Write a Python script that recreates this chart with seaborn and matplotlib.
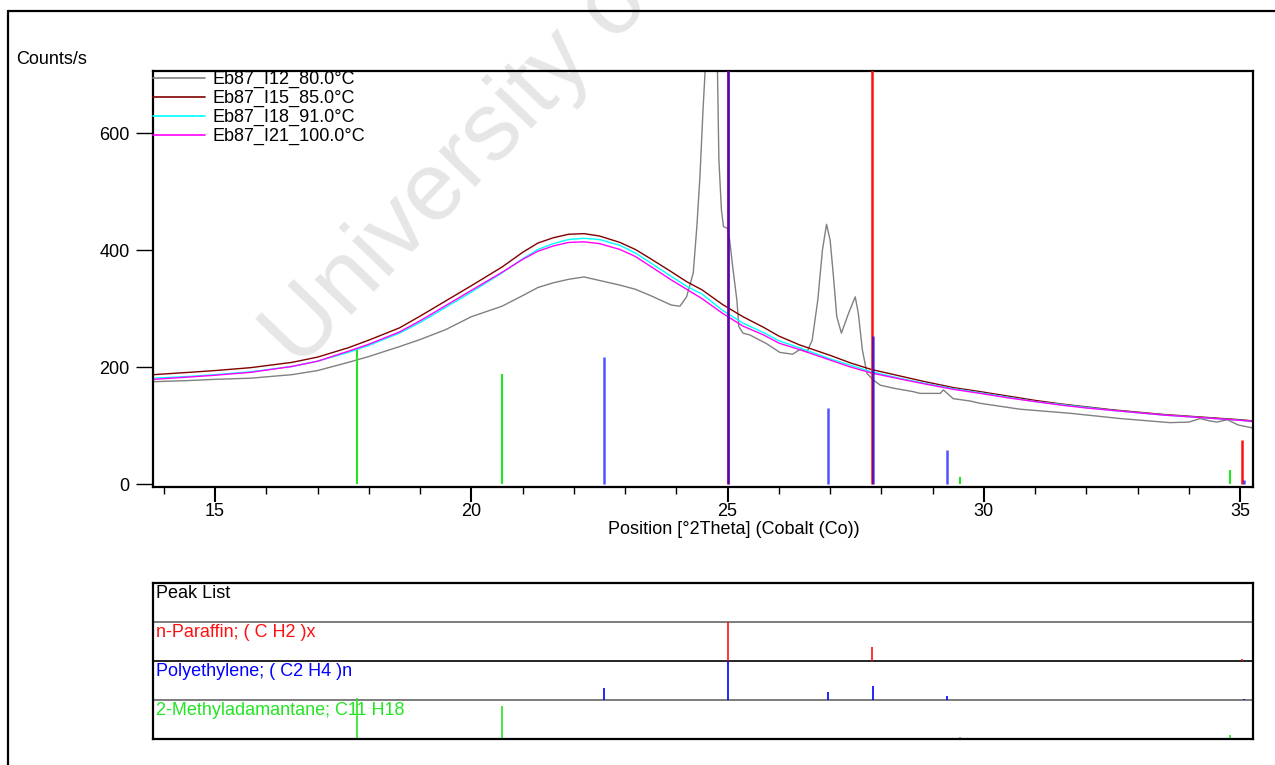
import numpy as np
import pandas as pd
import matplotlib
matplotlib.use("Agg")
import matplotlib.pyplot as plt
from matplotlib.lines import Line2D
from matplotlib.ticker import MultipleLocator
import matplotlib.transforms as mtransforms
import seaborn as sns

# ---------------- data ----------------
x_amorph = [13.8, 14.5, 15.0, 15.7, 16.5, 17.0, 17.6, 18.0, 18.6, 19.0,
            19.5, 20.0, 20.6, 21.0, 21.3, 21.6, 21.9, 22.2, 22.5, 22.9,
            23.2, 23.5, 23.9, 24.2, 24.5, 24.9, 25.3, 25.7, 26.0, 26.4,
            27.0, 27.4, 27.8, 28.4, 28.8, 29.4, 30.0, 30.5, 31.0, 31.5,
            32.0, 32.5, 33.0, 33.5, 34.0, 34.5, 35.0, 35.25]
y_85 = [187, 191, 194, 199, 208, 217, 233, 246, 267, 287,
        313, 339, 371, 396, 412, 421, 427, 428, 424, 413,
        401, 385, 363, 346, 332, 307, 286, 268, 253, 238,
        220, 207, 196, 184, 176, 165, 157, 150, 143, 137,
        132, 127, 123, 119, 116, 113, 110, 108]
y_91 = [181, 184, 187, 192, 201, 210, 225, 237, 258, 276,
        302, 328, 361, 385, 401, 411, 418, 420, 418, 408,
        395, 378, 355, 338, 325, 297, 275, 259, 245, 233,
        214, 203, 192, 180, 173, 163, 155, 148, 141, 136,
        131, 126, 122, 118, 115, 112, 109, 107]
y_100 = [179, 183, 186, 191, 201, 210, 227, 239, 260, 279,
         305, 331, 362, 384, 398, 407, 413, 414, 411, 401,
         389, 372, 349, 333, 317, 292, 270, 255, 241, 230,
         212, 200, 190, 179, 172, 162, 154, 147, 141, 135,
         130, 126, 122, 118, 115, 112, 109, 107]

x_80 = [13.8, 14.5, 15.0, 15.7, 16.5, 17.0, 17.6, 18.0, 18.6, 19.0,
        19.5, 20.0, 20.6, 21.0, 21.3, 21.6, 21.9, 22.2, 22.5, 22.9,
        23.2, 23.5, 23.9, 24.07, 24.2, 24.33, 24.4, 24.46, 24.52, 24.57,
        24.64, 24.72, 24.8, 24.83, 24.88, 24.92, 25.0, 25.04, 25.1, 25.18,
        25.22, 25.3, 25.43, 25.76, 26.02, 26.27, 26.41, 26.55, 26.65, 26.76,
        26.85, 26.93, 27.0, 27.06, 27.13, 27.22, 27.36, 27.49, 27.55, 27.63,
        27.72, 27.84, 27.98, 28.23, 28.62, 28.75, 29.15, 29.21, 29.4, 29.73,
        29.93, 30.7, 31.68, 32.66, 33.63, 34.0, 34.22, 34.4, 34.55, 34.75,
        34.96, 35.24]
y_80 = [175, 177, 179, 181, 187, 194, 208, 218, 235, 247,
        264, 286, 304, 322, 336, 344, 350, 354, 348, 340,
        333, 322, 306, 304, 320, 361, 440, 525, 639, 720,
        880, 880, 720, 554, 468, 440, 437, 417, 371, 315,
        269, 258, 255, 240, 225, 222, 230, 226, 246, 315,
        400, 444, 417, 360, 286, 258, 292, 320, 292, 229,
        189, 178, 169, 164, 158, 155, 155, 161, 146, 142,
        138, 128, 121, 112, 105, 106, 112, 108, 106, 110,
        101, 96]

series_labels = ["Eb87_I12_80.0°C", "Eb87_I15_85.0°C",
                 "Eb87_I18_91.0°C", "Eb87_I21_100.0°C"]
series_colors = ["#808080", "#800000", "#00FFFF", "#FF00FF"]

# reference patterns (stick positions, heights in the scan, relative heights in peak list)
paraffin_name = "n-Paraffin; ( C H2 )x"
paraffin_pos = [25.0, 27.82, 35.04]
paraffin_cts = [2000, 740, 75]
paraffin_rel = [1.0, 0.37, 0.04]

pe_name = "Polyethylene; ( C2 H4 )n"
pe_pos = [22.59, 25.0, 26.96, 27.84, 29.28, 35.08]
pe_cts = [217, 720, 130, 253, 58, 7]
pe_rel = [0.32, 1.0, 0.20, 0.37, 0.10, 0.03]

ma_name = "2-Methyladamantane; C11 H18"
ma_pos = [17.77, 20.6, 29.54, 34.8]
ma_cts = [230, 188, 12, 24]
ma_rel = [1.05, 0.84, 0.05, 0.11]

red, blue, green = "#FF1010", "#0000FF", "#22E622"

x_ticks = [15, 20, 25, 30, 35]
y_ticks = [0, 200, 400, 600]

# ---------------- build long table ----------------
frames = [pd.DataFrame({"pos": x_80, "counts": y_80, "series": series_labels[0]})]
for lab, ys in zip(series_labels[1:], [y_85, y_91, y_100]):
    frames.append(pd.DataFrame({"pos": x_amorph, "counts": ys, "series": lab}))
df = pd.concat(frames, ignore_index=True)

# ---------------- style ----------------
sns.set_theme(style="ticks")
plt.rcParams["font.family"] = ["Liberation Sans", "DejaVu Sans"]
FS = 13

W, H = 1275, 765
fig = plt.figure(figsize=(12.75, 7.65), dpi=100)
fig.patch.set_facecolor("white")

def fx(px):
    return px / W

def fy(py):
    return 1 - py / H

# watermark
fig.text(fx(466), fy(160), "University of", rotation=46, fontsize=70,
         color="#e6e6e6", ha="center", va="center", rotation_mode="anchor",
         zorder=-1)

# outer frame (left and top)
fig.add_artist(Line2D([fx(8), fx(8)], [0, fy(11)], transform=fig.transFigure,
                      color="black", lw=1.6))
fig.add_artist(Line2D([fx(8), 1], [fy(11), fy(11)], transform=fig.transFigure,
                      color="black", lw=1.6))

# ---------------- main scan axes ----------------
L, R, T, B = 153, 1253, 71, 487
ax = fig.add_axes([fx(L), fy(B), fx(R - L), (B - T) / H])
ax.set_facecolor("none")

sns.lineplot(data=df, x="pos", y="counts", hue="series",
             hue_order=series_labels,
             palette=dict(zip(series_labels, series_colors)),
             estimator=None, sort=False, lw=1.0, legend=False, ax=ax, zorder=2)

# reference sticks
ax.vlines(ma_pos, 0, ma_cts, colors=green, lw=1.5, zorder=3)
ax.vlines(paraffin_pos, 0, paraffin_cts, colors=red, lw=1.8, zorder=3)
ax.vlines(pe_pos, 0, pe_cts, colors=blue, lw=1.8, alpha=0.68, zorder=4)

ax.set_xlim(13.79, 35.25)
ax.set_ylim(-5, 706)
ax.set_xticks(x_ticks)
ax.set_xticklabels([str(t) for t in x_ticks])
ax.xaxis.set_minor_locator(MultipleLocator(1))
ax.set_yticks(y_ticks)
ax.set_yticklabels([str(t) for t in y_ticks])
ax.tick_params(axis="x", which="major", length=11, width=1.5, direction="out",
               pad=0.5, labelsize=FS, colors="black")
ax.tick_params(axis="x", which="minor", length=5, width=1.0, direction="out",
               colors="black")
ax.tick_params(axis="y", which="major", length=12, width=1.0, direction="out",
               pad=5, labelsize=FS, colors="black")
for s in ax.spines.values():
    s.set_visible(True)
    s.set_color("black")
    s.set_linewidth(1.6)

ax.set_xlabel("Position [°2Theta] (Cobalt (Co))", fontsize=FS, color="black")
ax.xaxis.set_label_coords((734 - L) / (R - L), (B - 529) / (B - T))
ax.xaxis.label.set_va("center")
ax.set_ylabel("Counts/s", fontsize=FS, rotation=0, color="black")
ax.yaxis.set_label_coords((16 - L) / (R - L), (B - 60) / (B - T))
ax.yaxis.label.set_ha("left")
ax.yaxis.label.set_va("center")

handles = [Line2D([], [], color=c, lw=1.2) for c in series_colors]
leg = ax.legend(handles, series_labels, loc="upper left",
                bbox_to_anchor=(0, 1.0), borderaxespad=0, borderpad=0,
                frameon=False, fontsize=FS, handlelength=2.9,
                handletextpad=0.4, labelspacing=0.1)
for t in leg.get_texts():
    t.set_color("black")

# ---------------- peak list axes ----------------
PT, PB = 583, 739
pax = fig.add_axes([fx(L), fy(PB), fx(R - L), (PB - PT) / H])
pax.set_facecolor("none")
pax.set_xlim(13.79, 35.25)
pax.set_ylim(0, 4)
pax.set_xticks([])
pax.set_yticks([])
for s in pax.spines.values():
    s.set_visible(True)
    s.set_color("black")
    s.set_linewidth(1.6)
pax.axhline(3, color="#666666", lw=1.2)
pax.axhline(2, color="black", lw=1.2)
pax.axhline(1, color="#666666", lw=1.2)

pax.vlines(paraffin_pos, 2, [2 + r for r in paraffin_rel], colors=red, lw=1.2)
pax.vlines(pe_pos, 1, [1 + r for r in pe_rel], colors=blue, lw=1.2)
pax.vlines(ma_pos, 0, ma_rel, colors=green, lw=1.2)

trans = mtransforms.blended_transform_factory(pax.transAxes, pax.transData)
for row, (txt, col) in enumerate([("Peak List", "black"),
                                  (paraffin_name, red),
                                  (pe_name, blue),
                                  (ma_name, green)]):
    pax.text(0.003, 4 - row - 0.04, txt, transform=trans, color=col,
             fontsize=FS, ha="left", va="top")

fig.savefig("out.png", dpi=100, facecolor="white")
